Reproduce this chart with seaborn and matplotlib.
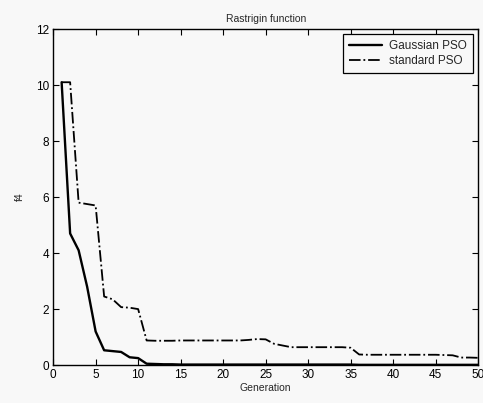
import numpy as np
import pandas as pd
import seaborn as sns
import matplotlib
matplotlib.use("Agg")
import matplotlib.pyplot as plt

# values, one per generation
generation = list(range(1, 51))

gaussian_pso = [10.1, 4.7, 4.1, 2.8, 1.2, 0.53, 0.50, 0.47, 0.28, 0.25,
                0.05, 0.04, 0.03, 0.03, 0.02, 0.02, 0.02, 0.02, 0.02, 0.02,
                0.02, 0.02, 0.02, 0.02, 0.02, 0.02, 0.02, 0.02, 0.02, 0.02,
                0.02, 0.02, 0.02, 0.02, 0.02, 0.01, 0.01, 0.01, 0.01, 0.01,
                0.01, 0.01, 0.01, 0.01, 0.01, 0.01, 0.01, 0.01, 0.01, 0.01]

standard_pso = [10.1, 10.1, 5.8, 5.75, 5.7, 2.45, 2.35, 2.07, 2.05, 2.0,
                0.88, 0.87, 0.87, 0.87, 0.88, 0.88, 0.88, 0.88, 0.88, 0.88,
                0.88, 0.88, 0.9, 0.93, 0.92, 0.76, 0.7, 0.64, 0.64, 0.64,
                0.64, 0.64, 0.64, 0.64, 0.62, 0.38, 0.37, 0.37, 0.37, 0.37,
                0.37, 0.37, 0.37, 0.37, 0.37, 0.36, 0.35, 0.27, 0.27, 0.26]

x_ticks = [0, 5, 10, 15, 20, 25, 30, 35, 40, 45, 50]
y_ticks = [0, 2, 4, 6, 8, 10, 12]

df = pd.DataFrame({"Generation": generation,
                   "Gaussian PSO": gaussian_pso,
                   "standard PSO": standard_pso})

sns.set_style("ticks")
plt.rcParams["font.family"] = ["Liberation Sans", "DejaVu Sans"]
bg = "#f8f8f8"

fig = plt.figure(figsize=(4.83, 4.03), dpi=100, facecolor=bg)
ax = fig.add_axes([0.110, 0.094, 0.880, 0.834])
ax.set_facecolor(bg)

sns.lineplot(data=df, x="Generation", y="Gaussian PSO", ax=ax,
             color="black", linewidth=1.7, linestyle="-", label="Gaussian PSO")
sns.lineplot(data=df, x="Generation", y="standard PSO", ax=ax,
             color="black", linewidth=1.3, linestyle="-.", label="standard PSO")

ax.set_xlim(0, 50)
ax.set_ylim(0, 12)
ax.set_xticks(x_ticks)
ax.set_yticks(y_ticks)
ax.tick_params(direction="in", top=True, right=True, length=4,
               width=0.8, labelsize=8.5, colors="black", pad=3)
for sp in ax.spines.values():
    sp.set_visible(True)
    sp.set_color("black")
    sp.set_linewidth(1.0)

ax.set_title("Rastrigin function", fontsize=7.5, pad=5)
ax.set_xlabel("Generation", fontsize=7.5, labelpad=1)
ax.set_ylabel("f4", fontsize=7.5, labelpad=8)

leg = ax.legend(loc="upper right", fontsize=8.5, frameon=True, fancybox=False,
                edgecolor="black", facecolor=bg, framealpha=1,
                handlelength=2.8, handletextpad=0.6, borderpad=0.5,
                labelspacing=0.25, borderaxespad=0.45)
leg.get_frame().set_linewidth(0.9)

fig.savefig("out.png", dpi=100, facecolor=bg)
